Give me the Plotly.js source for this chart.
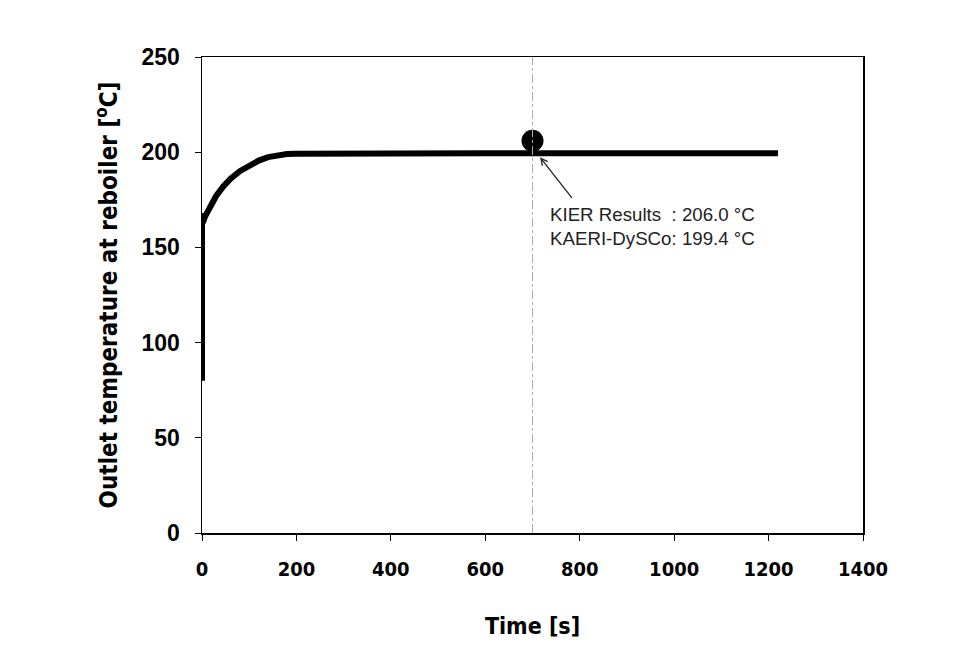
<!DOCTYPE html>
<html><head><meta charset="utf-8">
<script src="https://cdn.plot.ly/plotly-3.0.1.min.js"></script>
<style>body{margin:0;background:#fff}#c{width:976px;height:655px}</style>
</head><body><div id="c"></div>
<script>
const timeS = [0, 0, 2, 6, 12, 20, 30, 45, 60, 80, 100, 120, 140, 160, 180, 200, 250, 300, 400, 500, 600, 700, 800, 900, 1000, 1100, 1220];
const tempC = [80, 168, 163, 166, 169, 173, 177, 182, 186, 190, 193.0, 195.6, 197.4, 198.5, 199.0, 199.2, 199.3, 199.4, 199.4, 199.4, 199.4, 199.4, 199.4, 199.4, 199.4, 199.4, 199.4];
const kierTime = [700];
const kierTemp = [206.0];
const refLineX = 700;
const xTicks = [0, 200, 400, 600, 800, 1000, 1200, 1400];
const yTicks = [0, 50, 100, 150, 200, 250];
const noteText = 'KIER Results  : 206.0 \u00B0C<br>KAERI-DySCo: 199.4 \u00B0C';

const cond = '"DejaVu Sans Condensed", "DejaVu Sans"';
const data = [
  {x: timeS, y: tempC, mode: 'lines', line: {color: '#000', width: 6}, hoverinfo: 'none'},
  {x: kierTime, y: kierTemp, mode: 'markers', marker: {color: '#000', size: 22}, hoverinfo: 'none'}
];
const layout = {
  width: 976, height: 655,
  margin: {l: 202, r: 113, t: 57, b: 122},
  paper_bgcolor: '#fff', plot_bgcolor: '#fff',
  showlegend: false,
  xaxis: {range: [0, 1400], tickvals: xTicks, ticks: 'outside', ticklen: 6, tickcolor: '#000',
    showgrid: false, zeroline: false, showline: true, linecolor: '#000', linewidth: 1.5, mirror: true,
    ticklabelstandoff: 11,
    tickfont: {family: cond, size: 20, color: '#000', weight: 700},
    title: {text: 'Time [s]', font: {family: cond, size: 23, color: '#000', weight: 700}, standoff: 38}},
  yaxis: {range: [0, 250], tickvals: yTicks, ticks: 'outside', ticklen: 6, tickcolor: '#000',
    showgrid: false, zeroline: false, showline: true, linecolor: '#000', linewidth: 1.5, mirror: true,
    ticklabelstandoff: 10,
    tickfont: {family: 'Liberation Sans, Arial', size: 23, color: '#000', weight: 700},
    title: {text: 'Outlet temperature at reboiler [<sup>o</sup>C]', font: {family: cond, size: 24, color: '#000', weight: 700}, standoff: 17}},
  shapes: [{type: 'line', xref: 'x', yref: 'paper', x0: refLineX, x1: refLineX, y0: 0, y1: 1,
    line: {color: '#aaaaaa', width: 1, dash: 'dashdot'}}],
  annotations: [
    {x: 716, y: 197.3, xref: 'x', yref: 'y', text: '', showarrow: true, arrowhead: 5, arrowsize: 1, arrowwidth: 1.3, arrowcolor: '#222', ax: 33, ay: 42},
    {x: 733, y: 161, xref: 'x', yref: 'y', text: noteText, showarrow: false, xanchor: 'left', yanchor: 'middle', align: 'left',
      font: {family: 'Liberation Sans, Arial', size: 18.7, color: '#222'}}
  ]
};
Plotly.newPlot('c', data, layout, {displayModeBar: false, staticPlot: true});
</script></body></html>
